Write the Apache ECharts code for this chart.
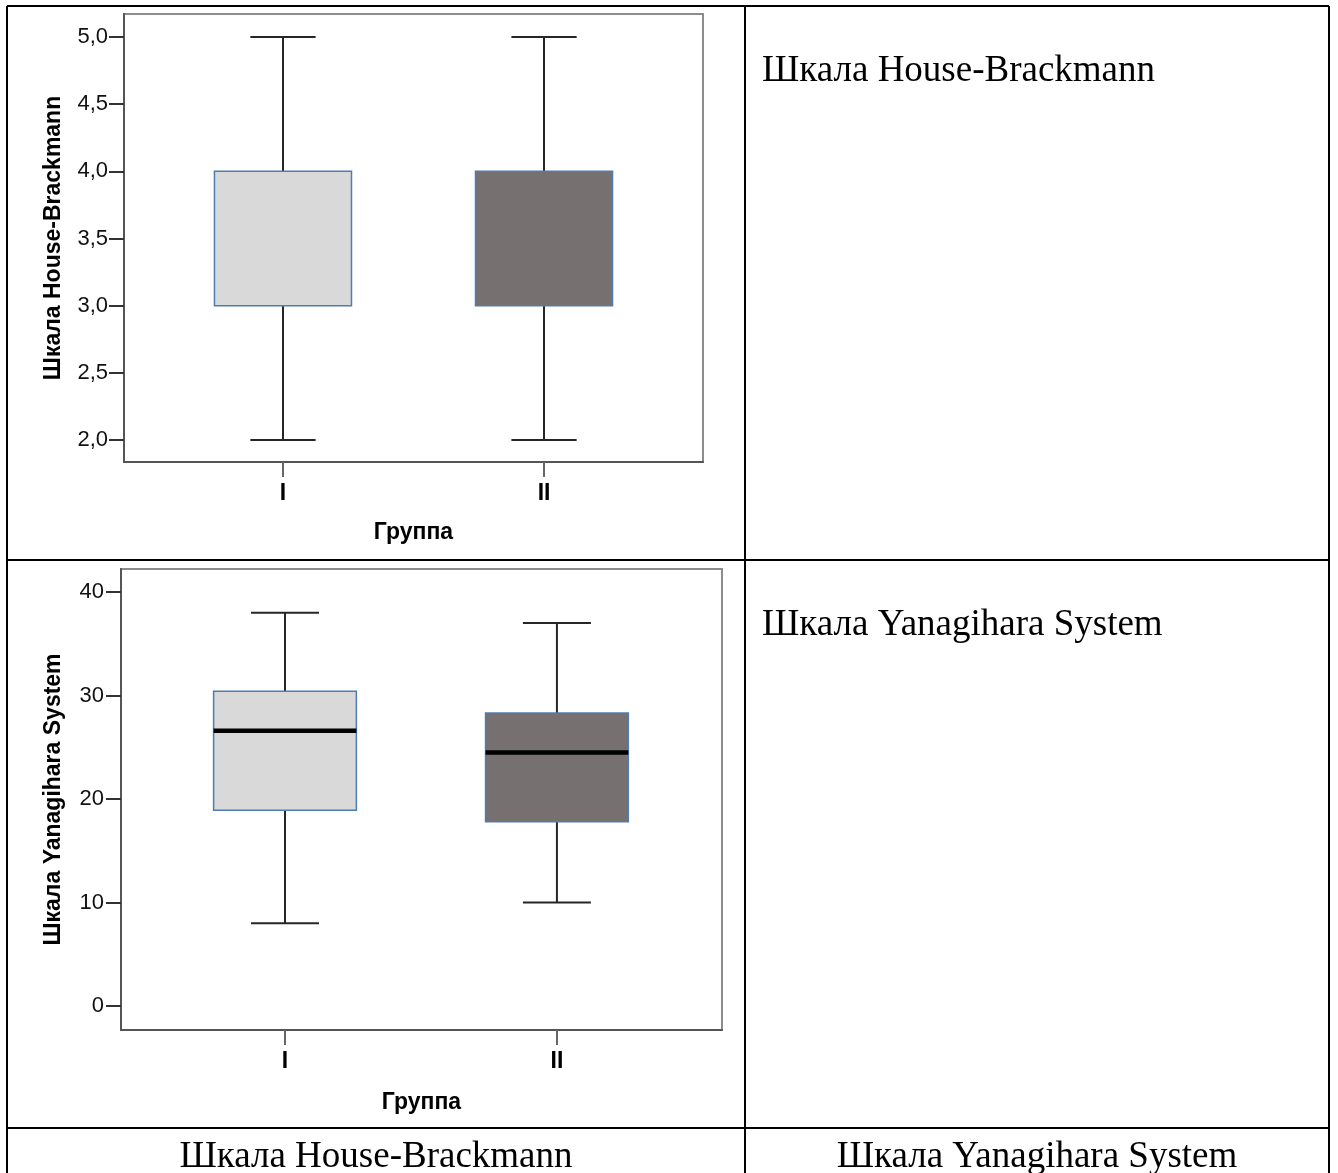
<!DOCTYPE html>
<html>
<head>
<meta charset="utf-8">
<script src="https://cdn.jsdelivr.net/npm/echarts@6/dist/echarts.min.js"></script>
<style>
html,body{margin:0;padding:0;background:#fff;}
#chart{width:1338px;height:1173px;}
</style>
</head>
<body>
<div id="chart"></div>
<script>
// ---------- data ----------
const groups = ['I', 'II'];
const groupPos = [1, 2];
// House-Brackmann
const hbMin = [2, 2];
const hbQ1 = [3, 3];
const hbMed = [null, null];
const hbQ3 = [4, 4];
const hbMax = [5, 5];
const hbTicks = [2, 2.5, 3, 3.5, 4, 4.5, 5];
// Yanagihara System
const yaMin = [8, 10];
const yaQ1 = [18.9, 17.8];
const yaMed = [26.6, 24.5];
const yaQ3 = [30.4, 28.3];
const yaMax = [38, 37];
const yaTicks = [0, 10, 20, 30, 40];
// texts
const yNameHB = 'Шкала House-Brackmann';
const yNameYA = 'Шкала Yanagihara System';
const xName = 'Группа';
const cellTitles = ['Шкала House-Brackmann', 'Шкала Yanagihara System'];
const footerTitles = ['Шкала House-Brackmann', 'Шкала Yanagihara System'];

const boxFills = ['#d9d9d9', '#767170'];
const sans = '"Liberation Sans", Arial, sans-serif';
const serif = '"Liberation Serif", "Times New Roman", serif';

function buildData(mn, q1, q3, mx) {
  return groupPos.map((p, i) => [p, mn[i], q1[i], q3[i], mx[i]]);
}

function makeRender(medians) {
  const bw = 0.525, cw = 0.25;
  return function (params, api) {
    const i = params.dataIndex;
    const x = api.value(0);
    const mn = api.value(1), q1 = api.value(2), q3 = api.value(3), mx = api.value(4);
    const wStyle = { stroke: '#262626', lineWidth: 2 };
    const p = (a, b) => api.coord([a, b]);
    const children = [];
    const lo = p(x, mn), q1p = p(x, q1), q3p = p(x, q3), hi = p(x, mx);
    children.push({ type: 'line', shape: { x1: lo[0], y1: lo[1], x2: q1p[0], y2: q1p[1] }, style: wStyle });
    children.push({ type: 'line', shape: { x1: q3p[0], y1: q3p[1], x2: hi[0], y2: hi[1] }, style: wStyle });
    const c1 = p(x - cw / 2, mn), c2 = p(x + cw / 2, mn);
    children.push({ type: 'line', shape: { x1: c1[0], y1: c1[1], x2: c2[0], y2: c2[1] }, style: wStyle });
    const c3 = p(x - cw / 2, mx), c4 = p(x + cw / 2, mx);
    children.push({ type: 'line', shape: { x1: c3[0], y1: c3[1], x2: c4[0], y2: c4[1] }, style: wStyle });
    const tl = p(x - bw / 2, q3), br = p(x + bw / 2, q1);
    children.push({
      type: 'rect',
      shape: { x: tl[0], y: tl[1], width: br[0] - tl[0], height: br[1] - tl[1] },
      style: { fill: boxFills[i], stroke: '#4f7db3', lineWidth: 1.5 }
    });
    if (medians[i] != null) {
      const m1 = p(x - bw / 2, medians[i]), m2 = p(x + bw / 2, medians[i]);
      children.push({ type: 'line', shape: { x1: m1[0], y1: m1[1], x2: m2[0], y2: m2[1] }, style: { stroke: '#000', lineWidth: 4.5 } });
    }
    return { type: 'group', children: children };
  };
}

function fmtComma(v) { return v.toFixed(1).replace('.', ','); }

function xAxisCfg(gridIndex, min, max, gap) {
  return {
    type: 'value', gridIndex: gridIndex, min: min, max: max,
    name: xName, nameLocation: 'middle', nameGap: gap,
    nameTextStyle: { fontFamily: sans, fontSize: 23, fontWeight: 'bold', color: '#000' },
    splitLine: { show: false },
    axisLine: { show: true, onZero: false, lineStyle: { color: '#555', width: 2 } },
    axisTick: { show: true, customValues: groupPos, length: 15, lineStyle: { color: '#666', width: 2 } },
    axisLabel: { customValues: groupPos, margin: 20, fontFamily: sans, fontSize: 23, fontWeight: 'bold', color: '#000',
      formatter: v => groups[groupPos.indexOf(v)] }
  };
}

function yAxisCfg(gridIndex, min, max, ticks, name, gap, fmt, margin) {
  return {
    type: 'value', gridIndex: gridIndex, min: min, max: max,
    name: name, nameLocation: 'middle', nameGap: gap,
    nameTextStyle: { fontFamily: sans, fontSize: 23, fontWeight: 'bold', color: '#000' },
    splitLine: { show: false },
    axisLine: { show: true, onZero: false, lineStyle: { color: '#555', width: 2 } },
    axisTick: { show: true, customValues: ticks, length: 15, lineStyle: { color: '#333', width: 2 } },
    axisLabel: { customValues: ticks, margin: margin, fontFamily: sans, fontSize: 22, color: '#111', formatter: fmt }
  };
}

const tableLine = { stroke: '#000', lineWidth: 2 };
const L = 7, R = 1329, T = 6, M = 745, H1 = 560, H2 = 1128, B = 1173;

const option = {
  animation: false,
  backgroundColor: '#fff',
  grid: [
    { left: 124, top: 14, width: 579, height: 448, show: true, borderColor: '#8c8c8c', borderWidth: 2, backgroundColor: '#fff' },
    { left: 121, top: 569, width: 601, height: 461, show: true, borderColor: '#8c8c8c', borderWidth: 2, backgroundColor: '#fff' }
  ],
  xAxis: [
    xAxisCfg(0, 0.391, 2.609, 59),
    xAxisCfg(1, 0.397, 2.607, 61)
  ],
  yAxis: [
    yAxisCfg(0, 1.836, 5.171, hbTicks, yNameHB, 59, fmtComma, 16),
    yAxisCfg(1, -2.32, 42.22, yaTicks, yNameYA, 56, v => String(v), 17)
  ],
  series: [
    {
      type: 'custom', xAxisIndex: 0, yAxisIndex: 0,
      renderItem: makeRender(hbMed),
      encode: { x: 0, y: [1, 2, 3, 4] },
      data: buildData(hbMin, hbQ1, hbQ3, hbMax)
    },
    {
      type: 'custom', xAxisIndex: 1, yAxisIndex: 1,
      renderItem: makeRender(yaMed),
      encode: { x: 0, y: [1, 2, 3, 4] },
      data: buildData(yaMin, yaQ1, yaQ3, yaMax)
    }
  ],
  graphic: [
    { type: 'line', shape: { x1: L, y1: T, x2: R, y2: T }, style: tableLine, z: 100 },
    { type: 'line', shape: { x1: L, y1: T, x2: L, y2: B }, style: tableLine, z: 100 },
    { type: 'line', shape: { x1: R, y1: T, x2: R, y2: B }, style: tableLine, z: 100 },
    { type: 'line', shape: { x1: M, y1: T, x2: M, y2: B }, style: tableLine, z: 100 },
    { type: 'line', shape: { x1: L, y1: H1, x2: R, y2: H1 }, style: tableLine, z: 100 },
    { type: 'line', shape: { x1: L, y1: H2, x2: R, y2: H2 }, style: tableLine, z: 100 },
    { type: 'text', x: 762, y: 71, style: { text: cellTitles[0], font: '37px ' + serif, fill: '#000', textAlign: 'left', textVerticalAlign: 'middle' } },
    { type: 'text', x: 762, y: 625, style: { text: cellTitles[1], font: '37px ' + serif, fill: '#000', textAlign: 'left', textVerticalAlign: 'middle' } },
    { type: 'text', x: (L + M) / 2, y: 1157, style: { text: footerTitles[0], font: '37px ' + serif, fill: '#000', textAlign: 'center', textVerticalAlign: 'middle' } },
    { type: 'text', x: (M + R) / 2, y: 1157, style: { text: footerTitles[1], font: '37px ' + serif, fill: '#000', textAlign: 'center', textVerticalAlign: 'middle' } }
  ]
};

const chart = echarts.init(document.getElementById('chart'), null, { renderer: 'canvas' });
chart.setOption(option);
</script>
</body>
</html>
